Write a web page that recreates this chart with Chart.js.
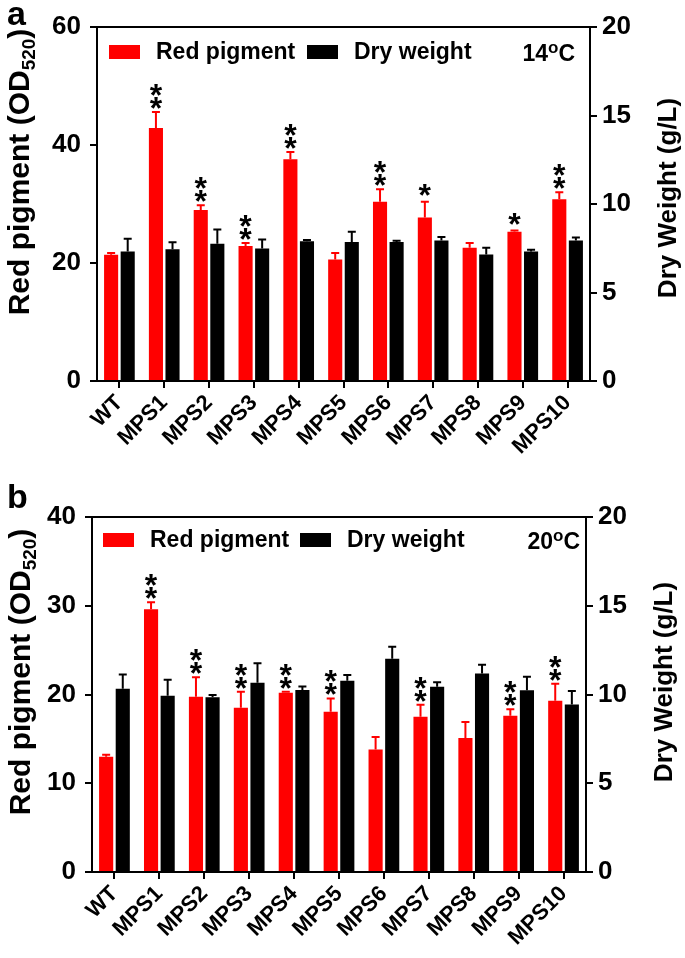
<!DOCTYPE html>
<html>
<head>
<meta charset="utf-8">
<script src="https://cdn.jsdelivr.net/npm/chart.js@4"></script>
<style>
  html, body { margin: 0; padding: 0; background: #fff; }
  #wrap { position: relative; width: 685px; height: 958px; }
  canvas { position: absolute; left: 0; }
  #chartA { top: 0; }
  #chartB { top: 480px; }
</style>
</head>
<body>
<div id="wrap">
  <canvas id="chartA" width="685" height="480"></canvas>
  <canvas id="chartB" width="685" height="478"></canvas>
</div>
<script>
// strains on the x axis
const strains = ['WT', 'MPS1', 'MPS2', 'MPS3', 'MPS4', 'MPS5', 'MPS6', 'MPS7', 'MPS8', 'MPS9', 'MPS10'];

// panel a, 14 C
const pigment14 = [21.4, 42.9, 29.0, 22.9, 37.6, 20.6, 30.4, 27.7, 22.6, 25.3, 30.8];
const pigment14Err = [0.3, 2.7, 0.8, 0.5, 1.2, 1.1, 2.1, 2.7, 0.8, 0.2, 1.2];
const dry14 = [7.31, 7.44, 7.76, 7.48, 7.9, 7.85, 7.85, 7.94, 7.15, 7.31, 7.94];
const dry14Err = [0.73, 0.4, 0.8, 0.52, 0.06, 0.58, 0.07, 0.2, 0.38, 0.1, 0.17];
const sig14 = ['', '**', '**', '**', '**', '', '**', '*', '', '*', '**'];

// panel b, 20 C
const pigment20 = [13.0, 29.6, 19.75, 18.5, 20.2, 18.06, 13.8, 17.5, 15.1, 17.6, 19.3];
const pigment20Err = [0.2, 0.8, 2.2, 1.8, 0.1, 1.5, 1.4, 1.35, 1.8, 0.75, 1.9];
const dry20 = [10.33, 9.93, 9.84, 10.66, 10.25, 10.78, 12.02, 10.44, 11.19, 10.24, 9.43];
const dry20Err = [0.8, 0.9, 0.13, 1.1, 0.2, 0.32, 0.67, 0.25, 0.49, 0.76, 0.77];
const sig20 = ['', '**', '**', '**', '**', '**', '', '**', '', '**', '**'];

// axis ticks
const leftMaxA = 60, leftStepA = 20;
const leftMaxB = 40, leftStepB = 10;
const rightMax = 20, rightStep = 5;

const FONT = "'Liberation Sans', Arial, sans-serif";
const RED = '#ff0000';

// draws error bars, stars, legend, titles, frame top and panel letter
const decor = {
    id: 'decor',
    afterDatasetsDraw(chart, args, o) {
        const ctx = chart.ctx;
        const area = chart.chartArea;
        ctx.save();

        // error bars
        const caps = [];
        chart.data.datasets.forEach((ds, i) => {
            const meta = chart.getDatasetMeta(i);
            const scale = chart.scales[ds.yAxisID];
            caps[i] = [];
            meta.data.forEach((bar, j) => {
                const yTop = scale.getPixelForValue(ds.data[j] + ds.errors[j]);
                caps[i][j] = yTop;
                ctx.strokeStyle = ds.backgroundColor;
                ctx.lineWidth = 2;
                ctx.beginPath();
                ctx.moveTo(bar.x, bar.y);
                ctx.lineTo(bar.x, yTop);
                ctx.moveTo(bar.x - 4, yTop);
                ctx.lineTo(bar.x + 4, yTop);
                ctx.stroke();
            });
        });

        // significance stars above red bars
        ctx.fillStyle = '#000';
        ctx.font = 'bold 32px ' + FONT;
        ctx.textAlign = 'center';
        ctx.textBaseline = 'alphabetic';
        const m = ctx.measureText('*');
        const mid = (m.actualBoundingBoxAscent - m.actualBoundingBoxDescent) / 2;
        const redBars = chart.getDatasetMeta(0).data;
        o.sig.forEach((s, j) => {
            const x = redBars[j].x;
            const cap = caps[0][j];
            if (s === '*') {
                ctx.fillText('*', x, cap - 12 + mid);
            } else if (s === '**') {
                ctx.fillText('*', x, cap - 9 + mid);
                ctx.fillText('*', x, cap - 22 + mid);
            }
        });

        // top frame line
        ctx.strokeStyle = '#000';
        ctx.lineWidth = 2;
        ctx.beginPath();
        ctx.moveTo(area.left, area.top);
        ctx.lineTo(area.right, area.top);
        ctx.stroke();

        // legend
        const ly = area.top + o.legendY;
        ctx.font = 'bold 23px ' + FONT;
        ctx.textAlign = 'left';
        ctx.textBaseline = 'middle';
        chart.data.datasets.forEach((ds, i) => {
            const bx = area.left + o.legendX[i];
            ctx.fillStyle = ds.backgroundColor;
            ctx.fillRect(bx, ly, 31, 14);
            ctx.fillStyle = '#000';
            ctx.fillText(ds.label, bx + 47, ly + 8);
        });

        // temperature label
        ctx.textBaseline = 'alphabetic';
        ctx.textAlign = 'left';
        const tBase = area.top + o.legendY + 16;
        const big = 'bold 23px ' + FONT, small = 'bold 17px ' + FONT;
        ctx.font = big;
        const wNum = ctx.measureText(o.temp).width;
        const wC = ctx.measureText('C').width;
        ctx.font = small;
        const wO = ctx.measureText('o').width;
        let tx = area.right - o.tempPad - (wNum + wO + wC);
        ctx.font = big;
        ctx.fillText(o.temp, tx, tBase);
        tx += wNum;
        ctx.font = small;
        ctx.fillText('o', tx, tBase - 8);
        tx += wO;
        ctx.font = big;
        ctx.fillText('C', tx, tBase);

        // left axis title with subscript
        const f = 30;
        ctx.save();
        ctx.translate(o.leftTitleX, o.leftTitleY);
        ctx.rotate(-Math.PI / 2);
        ctx.textBaseline = 'alphabetic';
        ctx.font = 'bold ' + f + 'px ' + FONT;
        const p1 = 'Red pigment (OD', p3 = ')';
        const w1 = ctx.measureText(p1).width, w3 = ctx.measureText(p3).width;
        ctx.font = 'bold 19px ' + FONT;
        const w2 = ctx.measureText('520').width;
        let sx = -(w1 + w2 + w3) / 2;
        const base = f * 0.36;
        ctx.fillStyle = '#000';
        ctx.font = 'bold ' + f + 'px ' + FONT;
        ctx.fillText(p1, sx, base);
        ctx.font = 'bold 19px ' + FONT;
        ctx.fillText('520', sx + w1, base + 6);
        ctx.font = 'bold ' + f + 'px ' + FONT;
        ctx.fillText(p3, sx + w1 + w2, base);
        ctx.restore();

        // right axis title
        ctx.save();
        ctx.translate(area.right + 77, o.rightTitleY);
        ctx.rotate(-Math.PI / 2);
        ctx.font = 'bold 26px ' + FONT;
        ctx.textAlign = 'center';
        ctx.fillText('Dry Weight (g/L)', 0, 26 * 0.36);
        ctx.restore();

        // panel letter
        ctx.font = 'bold 34px ' + FONT;
        ctx.textAlign = 'left';
        ctx.textBaseline = 'alphabetic';
        ctx.fillText(o.letter, 7, o.letterY);

        ctx.restore();
    }
};

function axisLine() {
    return {
        grid: { drawOnChartArea: false, drawTicks: true, tickLength: 7, color: '#000', lineWidth: 2, offset: false },
        border: { display: true, color: '#000', width: 2 }
    };
}

function makeChart(id, cfg) {
    const tickFont = { family: FONT, size: 26, weight: 'bold' };
    return new Chart(document.getElementById(id).getContext('2d'), {
        type: 'bar',
        data: {
            labels: strains,
            datasets: [{
                label: 'Red pigment',
                data: cfg.pigment,
                errors: cfg.pigmentErr,
                backgroundColor: RED,
                yAxisID: 'y',
                categoryPercentage: 0.74,
                barPercentage: 0.85
            }, {
                label: 'Dry weight',
                data: cfg.dry,
                errors: cfg.dryErr,
                backgroundColor: '#000000',
                yAxisID: 'y1',
                categoryPercentage: 0.74,
                barPercentage: 0.85
            }]
        },
        options: {
            responsive: false,
            animation: false,
            devicePixelRatio: 1,
            layout: { padding: { top: cfg.padTop, left: 0, right: 0, bottom: 0 } },
            plugins: {
                legend: { display: false },
                tooltip: { enabled: false },
                decor: cfg.decor
            },
            scales: {
                x: Object.assign(axisLine(), {
                    ticks: {
                        color: '#000', font: { family: FONT, size: 22, weight: 'bold' },
                        maxRotation: 45, minRotation: 45, padding: 2, autoSkip: false
                    },
                    afterFit(s) { s.height = cfg.xHeight; }
                }),
                y: Object.assign(axisLine(), {
                    position: 'left', min: 0, max: cfg.leftMax,
                    ticks: { stepSize: cfg.leftStep, color: '#000', font: tickFont, padding: 9 },
                    afterFit(s) { s.width = cfg.leftWidth; }
                }),
                y1: Object.assign(axisLine(), {
                    position: 'right', min: 0, max: rightMax,
                    ticks: { stepSize: rightStep, color: '#000', font: tickFont, padding: 5 },
                    afterFit(s) { s.width = cfg.rightWidth; }
                })
            }
        },
        plugins: [decor]
    });
}

makeChart('chartA', {
    pigment: pigment14, pigmentErr: pigment14Err, dry: dry14, dryErr: dry14Err,
    leftMax: leftMaxA, leftStep: leftStepA,
    padTop: 27, xHeight: 99, leftWidth: 97, rightWidth: 95,
    decor: {
        sig: sig14, temp: '14', tempPad: 15, letter: 'a', letterY: 25,
        legendX: [12, 210], legendY: 18,
        leftTitleX: 18, leftTitleY: 172, rightTitleY: 198
    }
});

makeChart('chartB', {
    pigment: pigment20, pigmentErr: pigment20Err, dry: dry20, dryErr: dry20Err,
    leftMax: leftMaxB, leftStep: leftStepB,
    padTop: 37, xHeight: 86, leftWidth: 92, rightWidth: 99,
    decor: {
        sig: sig20, temp: '20', tempPad: 6, letter: 'b', letterY: 28,
        legendX: [11, 208], legendY: 16,
        leftTitleX: 19, leftTitleY: 192, rightTitleY: 202
    }
});
</script>
</body>
</html>
